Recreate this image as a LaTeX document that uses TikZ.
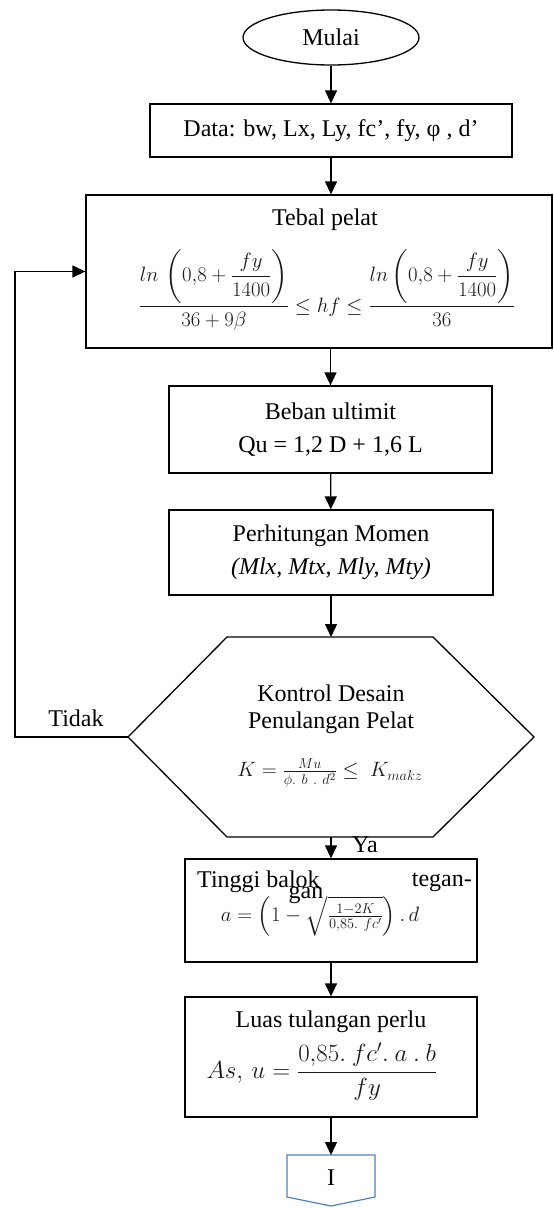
\documentclass[tikz,border=0pt]{standalone}
\usepackage{fontspec}
\setmainfont{Liberation Serif}
\usepackage{amsmath,amssymb}
\usetikzlibrary{arrows.meta,positioning,shapes.geometric}
\colorlet{rumus}{black!90}
\definecolor{konektor}{RGB}{79,129,189}

\begin{document}
\begin{tikzpicture}[x=1pt,y=-1pt,
    kotak/.style={draw, line width=1.3pt, inner sep=0pt, align=center,
      font=\fontsize{24}{33}\selectfont},
    teks/.style={inner sep=0pt, align=center, font=\fontsize{24}{27}\selectfont},
    rms/.style={inner sep=0pt, text=rumus, font=\fontsize{#1}{#1}\selectfont},
    rms/.default=21,
    panah/.style={line width=1.3pt, -{Triangle[length=13pt,width=12pt]}}]
  \useasboundingbox (0,0) rectangle (554,1208);
  % Start
  \node[kotak, ellipse, minimum width=176pt, minimum height=55pt] (mulai) at (331,37.5) {Mulai};
  % Input data
  \node[kotak, minimum width=362pt, minimum height=53pt] (data) at (331,130.5)
    {Data: bw, Lx, Ly, fc’, fy, φ , d’};
  % Slab thickness
  \node[kotak, minimum width=466pt, minimum height=153pt] (tebal) at (319,271.5) {};
  \node[teks] (tebaljudul) at (325,220) {Tebal pelat};
  \node[rms=22.5] (tebalrumus) at (327,290)
    {$\displaystyle \frac{ln\,\left(0{,}8+\dfrac{fy}{1400}\right)}{36+9\beta}\le hf\le
      \frac{ln\left(0{,}8+\dfrac{fy}{1400}\right)}{36}$};
  % Ultimate load
  \node[kotak, minimum width=323pt, minimum height=87pt] (beban) at (330.5,429.5)
    {Beban ultimit\\Qu = 1,2 D + 1,6 L};
  % Moments
  \node[kotak, minimum width=324pt, minimum height=85pt] (momen) at (331,552.5)
    {Perhitungan Momen\\\textit{(Mlx, Mtx, Mly, Mty)}};
  % Design check (hexagon)
  \draw[line width=1.3pt] (227,637) -- (433,637) -- (534,737) -- (433,837)
    -- (227,837) -- (128,737) -- cycle;
  \coordinate (kontrolatas) at (331,637);
  \coordinate (kontrolbawah) at (331,837);
  \coordinate (kontrolkiri) at (128,737);
  \node[teks] (kontrol) at (331,709) {Kontrol Desain\\Penulangan Pelat};
  \node[rms=22] (kontrolrumus) at (330,773)
    {$K=\frac{Mu}{\phi.\ b\ .\ d^2}\le\ K_{makz}$};
  % Depth of stress block
  \node[kotak, minimum width=292pt, minimum height=103pt] (tinggi) at (331,910.5) {};
  \node[teks, anchor=west] (tinggijudul) at (197,882) {Tinggi balok};
  \node[teks, anchor=east] (tinggitegan) at (472,882) {tegan-};
  \node[rms=22] (tinggirumus) at (320,916)
    {$a=\left(1-\sqrt{\tfrac{1-2K}{0{,}85.\ fc'}}\right).\,d$};
  \node[teks] (tinggigan) at (306,895) {gan};
  % Required steel area
  \node[kotak, minimum width=292pt, minimum height=120pt] (luas) at (331,1057) {};
  \node[teks] (luasjudul) at (331,1022) {Luas tulangan perlu};
  \node[rms=23] (luasrumus) at (322,1072)
    {$\displaystyle As,\,u=\frac{0{,}85.\ fc'.\ a\ .\ b}{fy}$};
  % Off-page connector
  \draw[konektor, line width=1.2pt] (287,1155) -- (375,1155) -- (375,1197)
    -- (331,1206) -- (287,1197) -- cycle;
  \coordinate (halatas) at (331,1155);
  \node[teks] (hal) at (331,1178) {I};
  % Flow
  \draw[panah] (mulai) -- (data);
  \draw[panah] (data.south) -- (data.south |- tebal.north);
  \draw[panah] (beban.north |- tebal.south) -- (beban.north);
  \draw[panah] (beban) -- (momen);
  \draw[panah] (momen.south) -- (kontrolatas);
  \draw[panah] (kontrolbawah) -- (tinggi.north);
  \node[teks] (ya) at (365,845) {Ya};
  \draw[panah] (tinggi) -- (luas);
  \draw[panah] (luas.south) -- (halatas);
  % Loop back
  \draw[panah] (kontrolkiri) -- (15,737) |- (tebal.west);
  \node[teks] (tidak) at (76,718) {Tidak};
\end{tikzpicture}
\end{document}
